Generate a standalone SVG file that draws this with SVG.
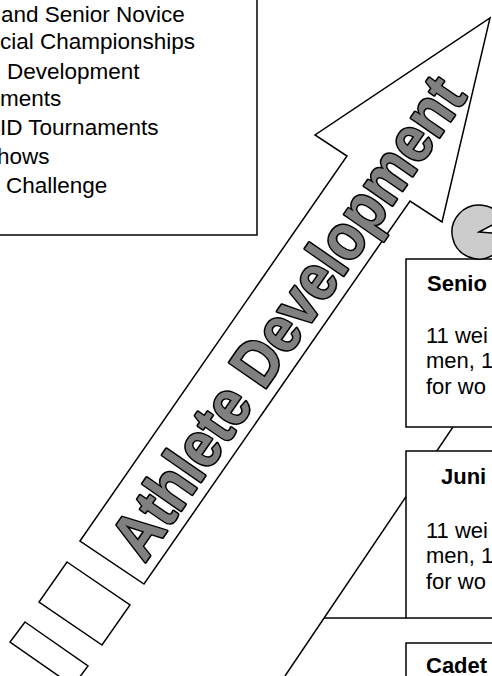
<svg xmlns="http://www.w3.org/2000/svg" width="492" height="676" viewBox="0 0 492 676">
<defs>
<style>
.shape{fill:#fff;stroke:#000;stroke-width:1.5;stroke-linejoin:miter}
.ln{fill:none;stroke:#000;stroke-width:1.5}
.t{font-family:"Liberation Sans",Arial,sans-serif;font-size:22.5px;fill:#000}
.bt{font-family:"Liberation Sans",Arial,sans-serif;font-size:22px;fill:#000}
.b{font-weight:bold}
.big{font-family:"Liberation Sans",Arial,sans-serif;font-weight:bold;font-size:65px;fill:#808080;stroke:#000;stroke-width:3.2;stroke-linejoin:round;paint-order:stroke}
</style>
</defs>
<rect width="492" height="676" fill="#fff"/>
<g id="list-box">
<rect class="shape" x="-10" y="-10" width="267" height="245"/>
<text class="t" x="1" y="22">and Senior Novice</text>
<text class="t" x="0" y="48.5">cial Championships</text>
<text class="t" x="7" y="78.5">Development</text>
<text class="t" x="0" y="105.5">ments</text>
<text class="t" x="0" y="134.5">ID Tournaments</text>
<text class="t" x="-3" y="163.5">hows</text>
<text class="t" x="6" y="193">Challenge</text>
</g>
<g id="arrow">
<polygon class="shape" points="80,541 347,156 315,135 490,18 442,222 410,201 144,584"/>
<polygon class="shape" points="67,562 130,605 102,645 39,602"/>
<polygon class="shape" points="25,622 88,666 73,686 10,642"/>
<text class="big" transform="rotate(-55.3)" x="-381" y="439.5" textLength="568" lengthAdjust="spacingAndGlyphs">Athlete Development</text>
</g>
<g id="connectors">
<line class="ln" x1="538.7" y1="300" x2="285" y2="676"/>
<line class="ln" x1="324" y1="618" x2="406" y2="618"/>
</g>
<g id="senior">
<rect class="shape" x="406" y="259" width="110" height="168"/>
<text class="bt b" x="427" y="291">Senio</text>
<text class="bt" x="426" y="343">11 wei</text>
<text class="bt" x="426" y="368">men, 1</text>
<text class="bt" x="426" y="393.5">for wo</text>
</g>
<g id="junior">
<rect class="shape" x="406" y="451" width="110" height="167"/>
<text class="bt b" x="441" y="484">Juni</text>
<text class="bt" x="426" y="538">11 wei</text>
<text class="bt" x="426" y="563">men, 1</text>
<text class="bt" x="426" y="588.5">for wo</text>
</g>
<g id="cadet">
<rect class="shape" x="406" y="643" width="110" height="60"/>
<text class="bt b" x="426" y="673">Cadet</text>
</g>
<g id="marker-circle">
<path d="M479,232 L505.9,233.9 A27,27 0 1 1 502.8,219.3 Z" fill="#cccccc" stroke="#000" stroke-width="1.5" stroke-linejoin="miter"/>
</g>
</svg>
